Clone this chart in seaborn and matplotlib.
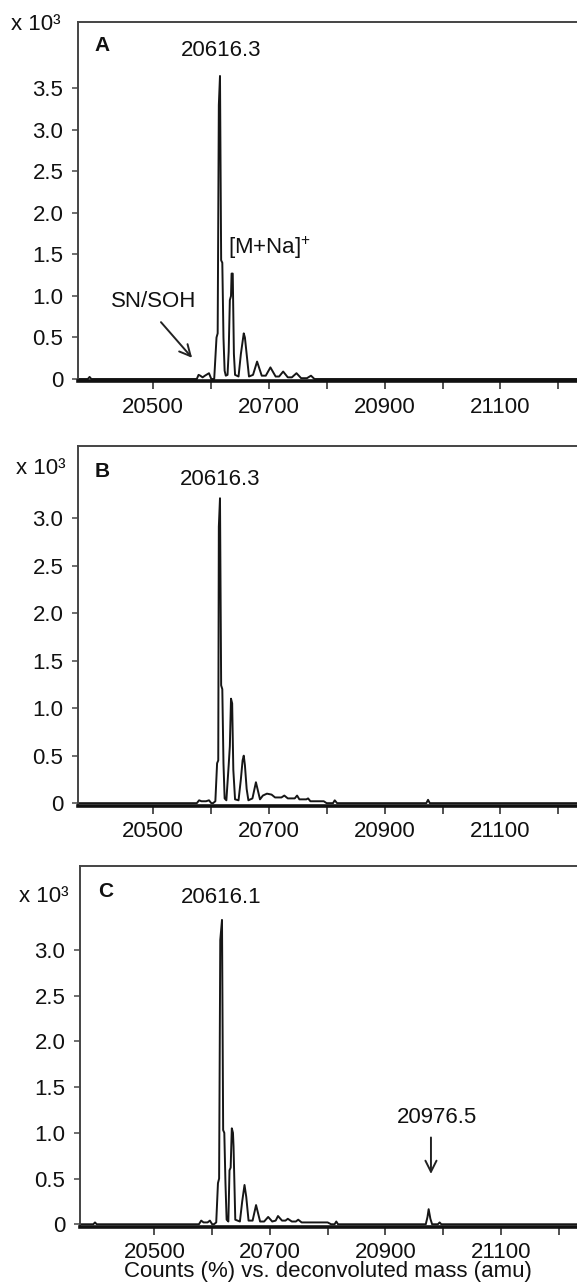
import numpy as np
import pandas as pd
import matplotlib
matplotlib.use('Agg')
import matplotlib.pyplot as plt
import seaborn as sns

# stile base di seaborn, poi imposto il font (dopo set_theme, altrimenti viene sovrascritto)
sns.set_theme(style='ticks')
plt.rcParams['font.family'] = ['Liberation Sans', 'DejaVu Sans']
plt.rcParams['mathtext.fontset'] = 'custom'
plt.rcParams['mathtext.rm'] = 'Liberation Sans'
plt.rcParams['text.color'] = '#111111'

# --DATI: massa deconvoluta (amu) e counts (x 10^3)--

mass_a = [20371, 20388, 20391, 20394, 20576, 20579, 20582, 20586, 20590, 20597, 20601,
          20606, 20610, 20612, 20614, 20616, 20618, 20620, 20622, 20624, 20626,
          20629, 20631, 20633, 20635, 20636, 20638, 20640, 20642,
          20648, 20652, 20655, 20657, 20659, 20662, 20666,
          20673, 20680, 20688, 20695, 20703, 20712, 20718, 20725, 20733,
          20740, 20748, 20756, 20766, 20773, 20779, 21232]
counts_a = [0, 0, 0.025, 0, 0, 0.05, 0.04, 0.02, 0.04, 0.07, 0,
            0, 0.5, 0.55, 3.3, 3.65, 1.43, 1.4, 0.5, 0.1, 0.04,
            0.05, 0.33, 0.95, 1.0, 1.27, 1.27, 0.3, 0.05,
            0.03, 0.3, 0.45, 0.55, 0.5, 0.3, 0.03,
            0.05, 0.21, 0.04, 0.04, 0.14, 0.03, 0.03, 0.09, 0.02,
            0.02, 0.07, 0.01, 0.01, 0.04, 0, 0]

mass_b = [20371, 20576, 20580, 20584, 20592, 20597, 20601, 20604,
          20608, 20611, 20613, 20614, 20616, 20618, 20620, 20622, 20624,
          20627, 20631, 20633, 20635, 20637, 20639, 20642,
          20648, 20652, 20655, 20657, 20659, 20662, 20665,
          20672, 20678, 20685, 20690, 20697, 20705, 20711, 20722, 20727,
          20733, 20745, 20749, 20753, 20765, 20768, 20772, 20795, 20800,
          20811, 20814, 20818, 20972, 20975, 20978, 21232]
counts_b = [0, 0, 0.03, 0.02, 0.02, 0.03, 0, 0,
            0.02, 0.42, 0.45, 2.91, 3.21, 1.24, 1.2, 0.42, 0.05,
            0.03, 0.4, 0.6, 1.10, 1.05, 0.35, 0.04,
            0.03, 0.25, 0.45, 0.5, 0.4, 0.15, 0.03,
            0.05, 0.22, 0.04, 0.08, 0.1, 0.09, 0.06, 0.06, 0.08,
            0.05, 0.05, 0.08, 0.04, 0.04, 0.05, 0.02, 0.02, 0,
            0, 0.03, 0, 0, 0.035, 0, 0]

mass_c = [20371, 20394, 20397, 20400, 20577, 20581, 20585, 20592, 20596, 20600, 20603,
          20607, 20610, 20612, 20614, 20617, 20619, 20621, 20623, 20625,
          20628, 20630, 20632, 20634, 20636, 20637, 20640,
          20648, 20652, 20656, 20659, 20663,
          20670, 20676, 20683, 20690, 20697, 20704, 20710, 20714, 20721,
          20727, 20731, 20738, 20745, 20749, 20755, 20800, 20806,
          20812, 20815, 20818, 20970, 20973, 20975, 20978, 20981, 20991, 20994, 20997, 21232]
counts_c = [0, 0, 0.02, 0, 0, 0.04, 0.02, 0.02, 0.04, 0, 0,
            0.02, 0.45, 0.5, 3.11, 3.33, 1.03, 1.0, 0.45, 0.05,
            0.03, 0.59, 0.62, 1.05, 1.0, 0.85, 0.05,
            0.03, 0.25, 0.43, 0.3, 0.04,
            0.04, 0.21, 0.03, 0.03, 0.08, 0.03, 0.04, 0.09, 0.04,
            0.04, 0.06, 0.03, 0.03, 0.05, 0.02, 0.02, 0,
            0, 0.03, 0, 0, 0.08, 0.165, 0.06, 0, 0, 0.02, 0, 0]

panel_letters = ['A', 'B', 'C']
peak_labels = ['20616.3', '20616.3', '20616.1']
ytick_vals = [[0, 0.5, 1.0, 1.5, 2.0, 2.5, 3.0, 3.5],
              [0, 0.5, 1.0, 1.5, 2.0, 2.5, 3.0],
              [0, 0.5, 1.0, 1.5, 2.0, 2.5, 3.0]]
xtick_labels = [20500, 20700, 20900, 21100]
x_label = 'Counts (%) vs. deconvoluted mass (amu)'

# --FIGURA--
W, H = 577, 1283
fig = plt.figure(figsize=(W / 100, H / 100), dpi=100)

# posizioni dei pannelli in pixel: (sinistra, alto, basso)
boxes = [(78, 22, 381.5), (78, 446, 806), (80, 866, 1227)]
ylims = [(-0.03, 4.30), (-0.03, 3.76), (-0.03, 3.92)]
series = [(mass_a, counts_a), (mass_b, counts_b), (mass_c, counts_c)]
# posizione (dati) della lettera e dell'etichetta del picco principale
letter_pos = [(20412, 4.02), (20412, 3.49), (20416, 3.64)]
peak_pos = [(20618, 3.96), (20616, 3.41), (20616, 3.57)]

axes = []
for i, (left, top, bottom) in enumerate(boxes):
    ax = fig.add_axes([left / W, 1 - bottom / H, (W - left) / W, (bottom - top) / H])
    m, c = series[i]
    df = pd.DataFrame({'mass': m, 'counts': c})
    sns.lineplot(data=df, x='mass', y='counts', ax=ax, sort=False, estimator=None,
                 color='#161616', linewidth=1.4)
    ax.set_xlim(20371, 21232)
    ax.set_ylim(*ylims[i])
    ax.set_xlabel('')
    ax.set_ylabel('')

    # tick: ogni 100 amu, etichette solo sulle centinaia dispari
    xt = np.arange(20500, 21300, 100)
    ax.set_xticks(xt)
    ax.set_xticklabels([str(v) if v in xtick_labels else '' for v in xt])
    ax.set_yticks(ytick_vals[i])
    ax.set_yticklabels(['0' if v == 0 else f'{v:.1f}' for v in ytick_vals[i]])
    ax.tick_params(axis='x', direction='out', length=6, width=1.2, pad=5,
                   labelsize=16, colors='#333333', labelcolor='#111111')
    ax.tick_params(axis='y', direction='out', length=4.5, width=1.2, pad=6,
                   labelsize=16, colors='#555555', labelcolor='#111111')

    ax.spines['right'].set_visible(False)
    for s in ['top', 'left']:
        ax.spines[s].set_linewidth(1.4)
        ax.spines[s].set_color('#444444')
    ax.spines['bottom'].set_linewidth(2.6)
    ax.spines['bottom'].set_color('#111111')

    ax.text(*letter_pos[i], panel_letters[i], fontsize=15, fontweight='bold',
            ha='center', va='center')
    ax.text(*peak_pos[i], peak_labels[i], fontsize=16, ha='center', va='center')
    axes.append(ax)

# annotazioni pannello A
axes[0].text(20630, 1.58, '[M+Na]$^{+}$', fontsize=16, ha='left', va='center')
axes[0].text(20502, 0.93, 'SN/SOH', fontsize=16, ha='center', va='center')
axes[0].annotate('', xy=(20571, 0.23), xytext=(20511, 0.71),
                 arrowprops=dict(arrowstyle='->', lw=1.4, color='#222222', mutation_scale=20))

# annotazione pannello C
axes[2].text(20989, 1.17, '20976.5', fontsize=16, ha='center', va='center')
axes[2].annotate('', xy=(20979, 0.52), xytext=(20979, 0.98),
                 arrowprops=dict(arrowstyle='->', lw=1.4, color='#222222', mutation_scale=20))

# "x 10^3" sopra ogni asse y
for (cx, cy) in [(36, 25), (41, 468), (44, 897)]:
    fig.text(cx / W, 1 - cy / H, 'x 10³', fontsize=16, ha='center', va='center')

fig.text(327.6 / W, 1 - 1272 / H, x_label, fontsize=16, ha='center', va='center')

fig.savefig('out.png', dpi=100)
